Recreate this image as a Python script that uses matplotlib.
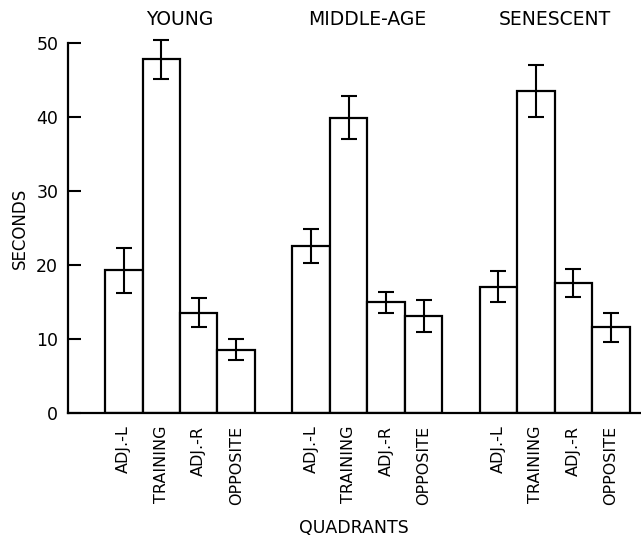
import numpy as np
import matplotlib.pyplot as plt

plt.rcParams['font.family'] = 'DejaVu Sans'

groups = ['YOUNG', 'MIDDLE-AGE', 'SENESCENT']
quadrants = ['ADJ.-L', 'TRAINING', 'ADJ.-R', 'OPPOSITE']

# mean time in each quadrant (seconds) and error bar half-widths
young = [19.3, 47.8, 13.6, 8.6]
young_err = [3.0, 2.6, 1.9, 1.4]
middle = [22.6, 39.9, 15.0, 13.1]
middle_err = [2.3, 2.9, 1.4, 2.2]
senescent = [17.1, 43.5, 17.6, 11.6]
senescent_err = [2.1, 3.5, 1.9, 1.95]

means = [young, middle, senescent]
errs = [young_err, middle_err, senescent_err]

fig = plt.figure(figsize=(6.41, 5.38), dpi=100)
ax = fig.add_axes([0.106, 0.232, 0.892, 0.688])

for g in range(3):
    x = np.arange(4) + 5 * g
    ax.bar(x, means[g], width=1.0, color='white', edgecolor='black', linewidth=1.6)
    ax.errorbar(x, means[g], yerr=errs[g], fmt='none', ecolor='black',
                elinewidth=1.5, capsize=6, capthick=1.5, clip_on=False)
    ax.text(x.mean(), 53.2, groups[g], ha='center', va='center', fontsize=13.5)

xticks = np.concatenate([np.arange(4) + 5 * g for g in range(3)])
ax.set_xticks(xticks)
ax.set_xticklabels(quadrants * 3, rotation=90, fontsize=11.5)
ax.tick_params(axis='x', length=0, pad=9)

ax.set_ylim(0, 50)
ax.set_xlim(-1.49, 13.77)
ax.set_yticks([0, 10, 20, 30, 40, 50])
ax.tick_params(axis='y', direction='in', length=9, width=1.5, labelsize=12.5, pad=7)

for side in ['top', 'right']:
    ax.spines[side].set_visible(False)
for side in ['left', 'bottom']:
    ax.spines[side].set_linewidth(1.6)

ax.set_ylabel('SECONDS', fontsize=12, labelpad=5)
ax.set_xlabel('QUADRANTS', fontsize=12.5, labelpad=10)

fig.savefig('out.png', dpi=100)
